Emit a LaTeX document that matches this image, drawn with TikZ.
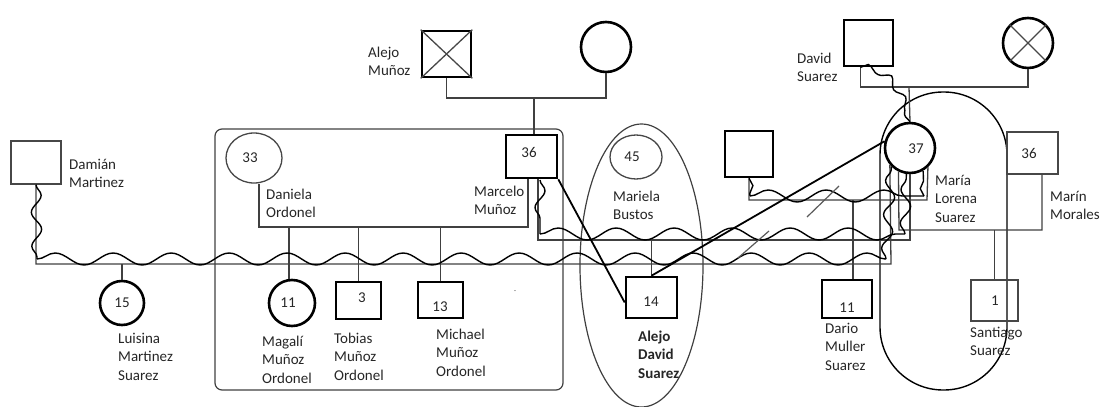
\documentclass[tikz,border=0pt]{standalone}
\usepackage{fontspec}
\setmainfont{Carlito}
\usetikzlibrary{shapes.geometric,decorations.pathmorphing,calc}
\begin{document}
\begin{tikzpicture}[x=1pt,y=-1pt,
  thinln/.style={draw=black!72, line width=1.3pt},
  thickln/.style={draw=black, line width=2.6pt},
  sqthin/.style={rectangle, thinln, inner sep=0},
  sqthick/.style={rectangle, thickln, inner sep=0},
  cithin/.style={ellipse, thinln, inner sep=0},
  cithick/.style={circle, thickln, inner sep=0},
  lbl/.style={anchor=base west, align=left, inner sep=0, font=\fontsize{15}{18.5}\selectfont, text=black!85},
  num/.style={inner sep=0, font=\fontsize{15}{18}\selectfont, text=black!85},
  rel/.style={draw=black!75, line width=1.3pt},
  diag/.style={draw=black, line width=1.8pt},
  wavy/.style={draw=black, line width=1.4pt, decorate, decoration={snake, segment length=58pt, amplitude=6pt}},
  wavyv/.style={draw=black, line width=1.4pt, decorate, decoration={snake, segment length=34pt, amplitude=5pt}},
  wavysm/.style={draw=black, line width=1.4pt, decorate, decoration={snake, segment length=24pt, amplitude=3.5pt}},
  slash/.style={draw=black!65, line width=1.2pt},
  hold/.style={draw=black!75, line width=1.2pt, inner sep=0},
]
\useasboundingbox (0,0) rectangle (1101,407);

% enclosures
\node[hold, rectangle, rounded corners=7pt, minimum width=348pt, minimum height=261pt] (group) at (389,259.5) {};
\node[hold, ellipse, minimum width=123pt, minimum height=283pt] (ell) at (641.5,265.5) {};
\node[draw=black, line width=1.4pt, inner sep=0, rectangle, rounded corners=63pt, minimum width=127pt, minimum height=298pt] (pill) at (943.5,241) {};

% people
\node[sqthin, minimum width=50pt, minimum height=43pt] (damian) at (36,162.5) {};
\node[sqthick, minimum width=49pt, minimum height=46pt] (alejoM) at (446.5,54) {};
\node[cithick, minimum size=50pt] (topC) at (606,47) {};
\node[sqthick, minimum width=49pt, minimum height=46pt] (david) at (868.5,43) {};
\node[cithick, minimum size=50pt] (xcirc) at (1028,43) {};
\node[sqthick, minimum width=51pt, minimum height=43pt] (marcelo) at (531.5,156.5) {};
\node[cithin, minimum width=56pt, minimum height=50pt] (daniela) at (254,158) {};
\node[cithin, minimum width=52pt, minimum height=44pt] (mariela) at (636,157) {};
\node[sqthick, minimum width=48pt, minimum height=46pt] (man) at (749,154) {};
\node[cithick, minimum size=50pt] (maria) at (910,148) {};
\node[sqthin, minimum width=51pt, minimum height=42pt] (marin) at (1032.5,153) {};
\node[cithick, minimum size=44pt] (luisina) at (122,303) {};
\node[cithick, minimum size=46pt] (magali) at (292,303) {};
\node[sqthick, minimum width=45pt, minimum height=37pt] (tobias) at (358.5,300.5) {};
\node[sqthick, minimum width=45pt, minimum height=36pt] (michael) at (440.5,300) {};
\node[sqthick, minimum width=51pt, minimum height=41pt] (alejoD) at (651.5,297.5) {};
\node[sqthick, minimum width=50pt, minimum height=38pt] (dario) at (847,299) {};
\node[sqthin, minimum width=47pt, minimum height=41pt] (santiago) at (994.5,300.5) {};

% crosses (deceased)
\draw[thinln] (alejoM.north west) -- (alejoM.south east);
\draw[thinln] (alejoM.north east) -- (alejoM.south west);
\draw[thinln] (xcirc.45) -- (xcirc.225);
\draw[thinln] (xcirc.135) -- (xcirc.315);

% numbers
\node[num] (n33) at (250,158) {33};
\node[num] (n36a) at (529,152) {36};
\node[num] (n45) at (632,157) {45};
\node[num] (n37) at (916,149) {37};
\node[num] (n36b) at (1029,153) {36};
\node[num] (n15) at (122,303) {15};
\node[num] (n11a) at (288,303) {11};
\node[num] (n3) at (362,298) {3};
\node[num] (n13) at (440,307) {13};
\node[num] (n14) at (651,302) {14};
\node[num] (n11b) at (847,308) {11};
\node[num] (n1) at (995,301) {1};
\node[font=\fontsize{8}{8}\selectfont, text=black!60, inner sep=0] (dot) at (515,292) {-};

% labels (anchor = baseline of last line)
\node[lbl] (lAM) at (368,75.5) {Alejo\\Muñoz};
\node[lbl] (lDS) at (797,81.5) {David\\Suarez};
\node[lbl] (lDM) at (69,187.5) {Damián\\Martinez};
\node[lbl] (lDO) at (266,217.5) {Daniela\\Ordonel};
\node[lbl] (lMM) at (474,214.5) {Marcelo\\Muñoz};
\node[lbl] (lMB) at (613,219.5) {Mariela\\Bustos};
\node[lbl] (lML) at (935,222) {María\\Lorena\\Suarez};
\node[lbl] (lMo) at (1050,219.5) {Marín\\Morales};
\node[lbl] (lLu) at (118,380) {Luisina\\Martinez\\Suarez};
\node[lbl] (lMa) at (262,383) {Magalí\\Muñoz\\Ordonel};
\node[lbl] (lTo) at (334,380) {Tobias\\Muñoz\\Ordonel};
\node[lbl] (lMi) at (436,376) {Michael\\Muñoz\\Ordonel};
\node[lbl, font=\fontsize{15}{18.5}\selectfont\bfseries] (lAD) at (638,378) {Alejo\\David\\Suarez};
\node[lbl] (lDa) at (825,370) {Dario\\Muller\\Suarez};
\node[lbl] (lSa) at (970,355.5) {Santiago\\Suarez};

% coordinates for relationship lines
\coordinate (amj) at (534,98);
\coordinate (dsj) at (909,87);
\coordinate (dmj) at (528,227);
\coordinate (dmr) at (891,264);
\coordinate (mmL) at (538,240);
\coordinate (mmR) at (910,240);
\coordinate (umR) at (927,200);
\coordinate (mrL) at (899,230);
\coordinate (mrR) at (1042,230);

% parents
\draw[rel] (alejoM.south) |- (amj) -| (topC.south);
\draw[rel] (amj) -- (amj |- marcelo.north);
\draw[rel] ([xshift=-8pt]david.south) |- (dsj) -| (xcirc.south);
\draw[rel] (dsj) -- (maria.north);

% Daniela - Marcelo
\draw[rel] ([xshift=5pt]daniela.south) |- (dmj) -- (dmj |- marcelo.south);
\draw[rel] ([xshift=-3pt]magali.north |- dmj) -- ([xshift=-3pt]magali.north);
\draw[rel] (tobias.north |- dmj) -- (tobias.north);
\draw[rel] (michael.north |- dmj) -- (michael.north);

% Damian - Maria
\draw[rel] (damian.south) |- (dmr) -- (maria.220);
\draw[rel] (luisina.north |- dmr) -- (luisina.north);
% Marcelo - Maria
\draw[rel] (mmL |- marcelo.south) -- (mmL) -- (mmR) -- (maria.south);
\draw[rel] (alejoD.north |- mmL) -- (alejoD.north);
% unknown man - Maria
\draw[rel] (man.south) |- (umR) -- (maria.313);
\draw[rel] ([xshift=6pt]dario.north |- umR) -- ([xshift=6pt]dario.north);
% Marin - Maria
\draw[rel] (maria.244) -- (mrL) -- (mrR) -- (mrR |- marin.south);
\draw[rel] (santiago.north |- mrL) -- (santiago.north);

% conflict waves
\coordinate (wd1) at (37,259);
\coordinate (wd2) at (886,259);
\coordinate (wm0) at (540,180);
\coordinate (wm1) at (540,234);
\coordinate (wm2) at (905,234);
\coordinate (wu1) at (750,196);
\coordinate (wu2) at (924,196);
\draw[wavyv] (damian.south) -- (wd1);
\draw[wavy] (wd1) -- (wd2);
\draw[wavyv] (wd2) -- (maria.225);
\draw[wavyv] (wm0) -- (wm1);
\draw[wavy] (wm1) -- (wm2);
\draw[wavyv] (wm2) -- (maria.262);
\draw[wavysm] (man.south) -- (wu1);
\draw[wavy] (wu1) -- (wu2);
\draw[wavysm] (wu2) -- (maria.300);
\draw[wavysm] ([xshift=-8pt]david.south) .. controls (890,70) and (895,100) .. (maria.north);

% divorce marks
\draw[slash] (807,217) -- (839,186);
\draw[slash] (738,258) -- (769,231);

% diagonal ties
\draw[diag] (marcelo.south east) -- ([yshift=-5pt]alejoD.west);
\draw[diag] (alejoD.north) -- (maria.165);
\end{tikzpicture}
\end{document}
